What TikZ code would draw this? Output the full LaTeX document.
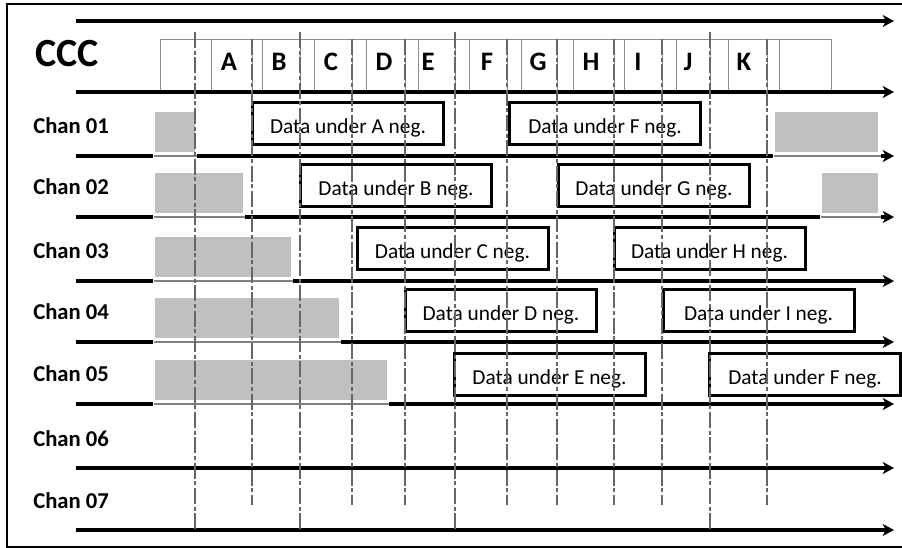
\documentclass[tikz,border=0pt]{standalone}
\usepackage{fontspec}
\setmainfont{Carlito}
\usetikzlibrary{arrows.meta}
\definecolor{slotgray}{HTML}{C0C0C0}
\definecolor{slotedge}{HTML}{808080}
\definecolor{cellline}{HTML}{8C8C8C}
\definecolor{guidegray}{HTML}{666666}

\begin{document}
\begin{tikzpicture}[x=0.75pt,y=-0.75pt,
  axis/.style={line width=2.3pt,-{Stealth[length=8.5pt,width=9pt,inset=2.5pt]}},
  cell/.style={draw=cellline,line width=0.6pt},
  guide/.style={draw=guidegray,line width=0.9pt,dash pattern=on 12pt off 2pt on 3pt off 2pt},
  databox/.style={draw=black,fill=white,line width=2.25pt,minimum width=143.25pt,
    minimum height=31.5pt,inner sep=0pt,text height=15pt,text depth=0pt,
    font=\fontsize{16}{19}\selectfont},
  chanlabel/.style={anchor=base west,inner sep=0pt,font=\fontsize{17}{20}\selectfont\bfseries},
  slotletter/.style={anchor=base,inner sep=0pt,font=\fontsize{20}{23}\selectfont\bfseries},
  edgeline/.style={draw=slotedge,line width=1.1pt}]

\useasboundingbox (0,0) rectangle (902,548);
\clip (0,0) rectangle (902,548);

% outer frame
\draw[line width=1.1pt] (7,4) rectangle (915,547);

% CCC slot row
\draw[cell] (160,39) -- (831,39);
\foreach \x in {160,211,252,262,300,314,352,366,405,418,455,469,507,521,557,573,614,624,662,676,710,728,767,779,831}
  \draw[cell] (\x,39) -- (\x,92);

\node[anchor=base west,inner sep=0pt,font=\fontsize{30}{33}\selectfont\bfseries] (ccc) at (35,67) {CCC};
\foreach \x/\l in {229/A,279/B,331/C,384/D,428/E,487/F,538/G,591/H,638/I,688/J,744/K}
  \node[slotletter] (slot\l) at (\x,70.5) {\l};

% time axes
\coordinate (top s) at (76,21);
\coordinate (top e) at (894,21);
\draw[axis] (top s) -- (top e);
\foreach \y [count=\i] in {92,156,217,281,342,404,468,530} {
  \coordinate (s\i) at (76,\y);
  \coordinate (e\i) at (894,\y);
  \draw[axis] (s\i) -- (e\i);
}

% channel labels
\foreach \y/\n in {156/01,217/02,281/03,342/04,404/05,468/06,530/07}
  \node[chanlabel] (chan\n) at (33,\y-22) {Chan \n};

% reserved (grey) periods sitting on the channel axes
\newcommand\reservedslot[4]{% left, right, axis y, right end of the grey axis part
  \fill[white] (#1-2,#3-4) rectangle (#4,#3+3);
  \draw[edgeline] (#1-1,#3) -- (#4,#3);
  \fill[slotgray] (#1,#3-44) rectangle (#2,#3-4);}
\reservedslot{155}{195}{156}{197}
\reservedslot{775}{878}{156}{881}
\reservedslot{155}{243}{217}{245}
\reservedslot{822}{878}{217}{881}
\reservedslot{155}{291}{281}{293}
\reservedslot{155}{339}{342}{341}
\reservedslot{155}{387}{404}{389}

% data periods
\node[databox] (dA)  at (348,123.5)   {Data under A neg.};
\node[databox] (dF1) at (605,123.5)   {Data under F neg.};
\node[databox] (dB)  at (396,186)     {Data under B neg.};
\node[databox] (dG)  at (654,186)     {Data under G neg.};
\node[databox] (dC)  at (452.5,248.5) {Data under C neg.};
\node[databox] (dH)  at (709.5,248.5) {Data under H neg.};
\node[databox] (dD)  at (501,311)     {Data under D neg.};
\node[databox] (dI)  at (758.5,311)   {Data under I neg.};
\node[databox] (dE)  at (549.5,374.5) {Data under E neg.};
\node[databox] (dF2) at (805,374.5)   {Data under F neg.};

% slot boundary guides
\foreach \x in {195,300,455,710}
  \draw[guide] (\x,32) -- (\x,530);
\foreach \x in {252,352,405,507,557,614,662,767}
  \draw[guide] (\x,39) -- (\x,505);

\end{tikzpicture}
\end{document}
